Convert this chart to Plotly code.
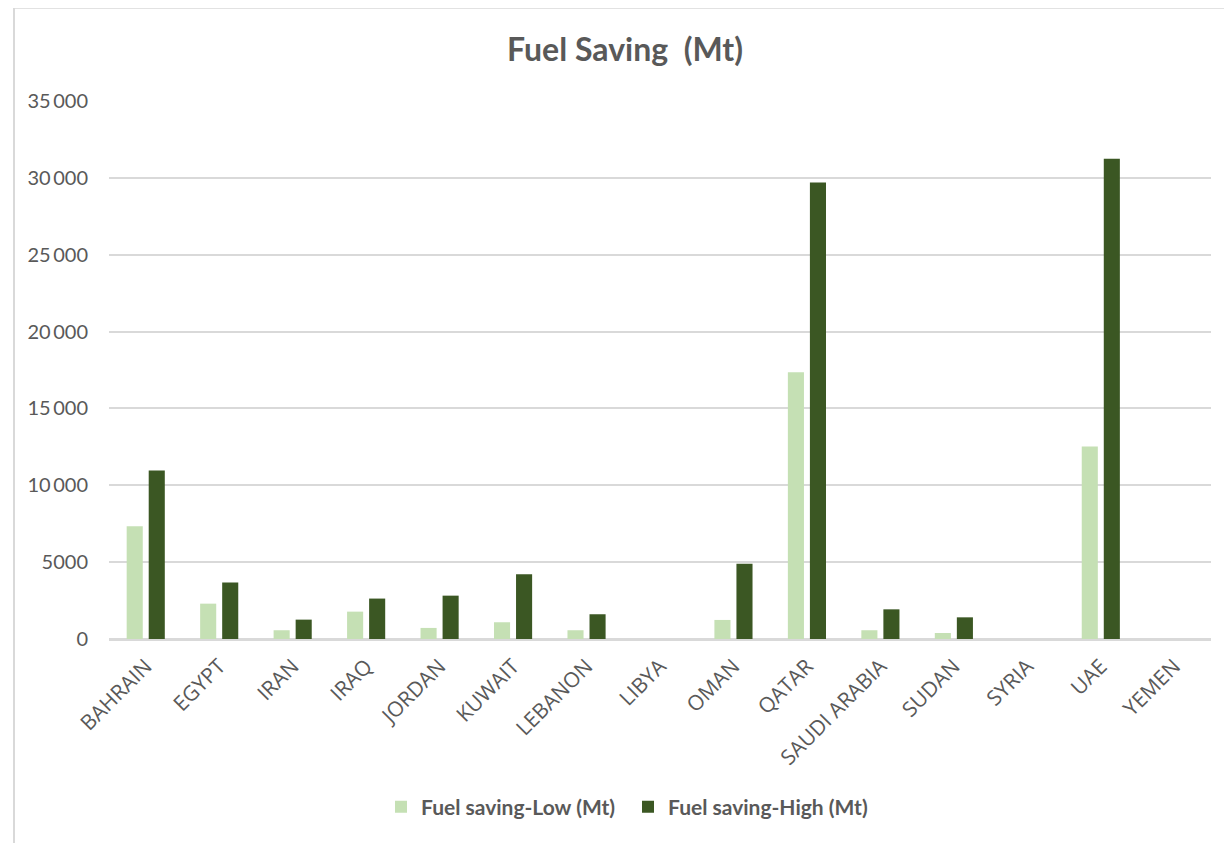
import plotly.graph_objects as go

countries = ["BAHRAIN", "EGYPT", "IRAN", "IRAQ", "JORDAN", "KUWAIT", "LEBANON", "LIBYA",
             "OMAN", "QATAR", "SAUDI ARABIA", "SUDAN", "SYRIA", "UAE", "YEMEN"]
fuel_low = [7330, 2300, 570, 1780, 720, 1090, 570, 0, 1240, 17350, 570, 390, 0, 12520, 0]
fuel_high = [10960, 3670, 1260, 2630, 2820, 4210, 1610, 0, 4900, 29700, 1930, 1410, 0, 31250, 0]
y_tickvals = [0, 5000, 10000, 15000, 20000, 25000, 30000, 35000]
y_ticktext = ["0", "5000", "10\u2009000", "15\u2009000", "20\u2009000", "25\u2009000", "30\u2009000", "35\u2009000"]

LIGHT = "#c5e0b4"
DARK = "#3b5723"
GREY_TXT = "#595959"
GRID = "#d9d9d9"
FONT = "Lato, Open Sans, sans-serif"

# page has an 8px body margin; the figure is sized to fill the rest of the window
OFF = 8
W, H = 1232 - OFF, 843 - OFF

fig = go.Figure()
fig.add_trace(go.Bar(x=countries, y=fuel_low, name="Fuel saving-Low (Mt)",
                     marker=dict(color=LIGHT, line=dict(width=0))))
fig.add_trace(go.Bar(x=countries, y=fuel_high, name="Fuel saving-High (Mt)",
                     marker=dict(color=DARK, line=dict(width=0))))

fig.update_layout(
    width=W, height=H,
    margin=dict(l=109 - OFF, r=1232 - 1211, t=100.7 - OFF, b=843 - 638.7),
    paper_bgcolor="white", plot_bgcolor="white",
    barmode="group", bargap=0.40, bargroupgap=0.27,
    title=dict(text="<b>Fuel Saving  (Mt)</b>", x=(625 - OFF) / W, xanchor="center",
               y=1 - (50 - OFF) / H, yanchor="middle", xref="container", yref="container",
               font=dict(family=FONT, size=32, color=GREY_TXT)),
    font=dict(family=FONT, color=GREY_TXT),
    legend=dict(orientation="h", xref="container", yref="container",
                x=(381 - OFF) / W, xanchor="left", y=1 - (807 - OFF) / H, yanchor="middle",
                font=dict(family=FONT, size=21, color=GREY_TXT, weight="bold"),
                itemwidth=30, traceorder="normal", entrywidth=202),
    showlegend=True,
)
fig.update_xaxes(
    type="category", showgrid=False, showline=False, ticks="",
    tickangle=-45, tickfont=dict(family="Open Sans, sans-serif", size=21, color=GREY_TXT),
    ticklabelstandoff=10, zeroline=False,
)
fig.update_yaxes(
    range=[0, 35000], tickvals=y_tickvals, ticktext=y_ticktext,
    showgrid=True, gridcolor=GRID, gridwidth=2,
    zeroline=True, zerolinecolor=GRID, zerolinewidth=3,
    showline=False, ticks="", ticklabelstandoff=20,
    tickfont=dict(family=FONT, size=20, color=GREY_TXT),
)
# chart-area border
fig.add_shape(type="rect", xref="paper", yref="paper",
              x0=(14 - 109) / 1102, x1=(1250 - 109) / 1102,
              y0=(638.7 - 860) / 538, y1=(638.7 - 7.5) / 538,
              line=dict(color=GRID, width=2), fillcolor="rgba(0,0,0,0)", layer="below")

fig.write_html("out.html")
